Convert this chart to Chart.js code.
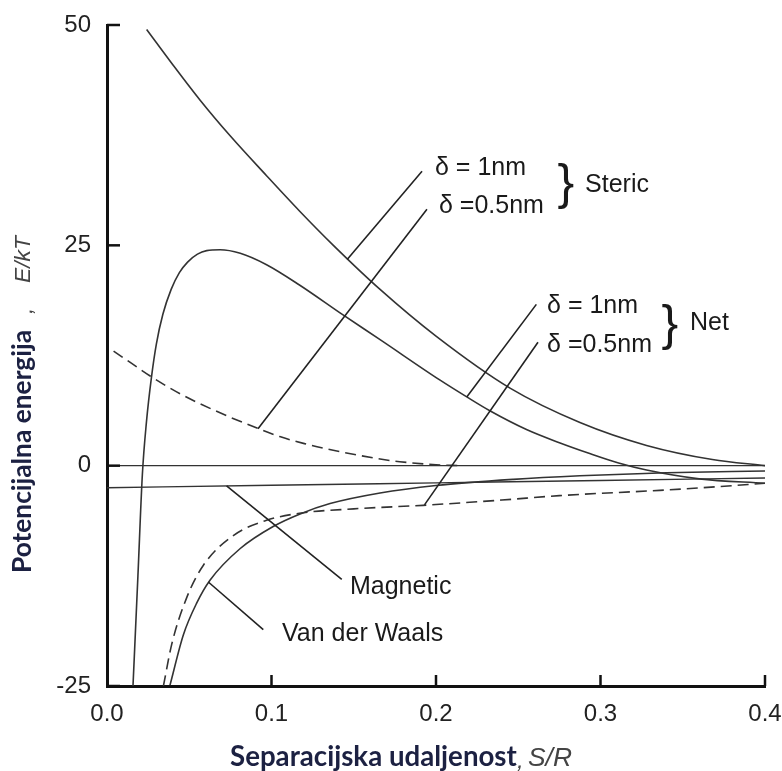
<!DOCTYPE html>
<html>
<head>
<meta charset="utf-8">
<script src="https://cdn.jsdelivr.net/npm/chart.js@4.4.1/dist/chart.umd.min.js"></script>
<style>
  html, body { margin: 0; padding: 0; background: #fff; }
  #wrap { width: 782px; height: 771px; }
</style>
</head>
<body>
<div id="wrap"><canvas id="energyChart" width="782" height="771"></canvas></div>
<script>
// --- data (x = S/R, y = E/kT) ---
const xTicks = [0.0, 0.1, 0.2, 0.3, 0.4];
const yTicks = [-25, 0, 25, 50];

const steric1X = [0.0241, 0.04, 0.0565, 0.075, 0.097, 0.117, 0.1376, 0.166, 0.2, 0.245, 0.2875, 0.328, 0.368, 0.4];
const steric1Y = [49.5, 45.5, 41.5, 37.4, 32.9, 28.9, 25.0, 20.0, 14.7, 8.8, 4.9, 2.3, 0.7, 0.0];

const steric05X = [0.004, 0.015, 0.026, 0.045, 0.065, 0.092, 0.105, 0.12, 0.1375, 0.1525, 0.166, 0.178, 0.2, 0.215];
const steric05Y = [13.0, 11.6, 10.2, 8.1, 6.3, 4.2, 3.3, 2.5, 1.75, 1.2, 0.75, 0.45, 0.1, 0.0];

const net1X = [0.0158, 0.0188, 0.0215, 0.024, 0.027, 0.030, 0.034, 0.039, 0.044, 0.049, 0.055, 0.0606, 0.0687, 0.081, 0.097, 0.117, 0.1435, 0.166, 0.2025, 0.2187, 0.233, 0.255, 0.275, 0.293, 0.311, 0.328, 0.36, 0.4];
const net1Y = [-25, -12.5, -1.0, 5.0, 10.0, 13.8, 17.2, 20.0, 21.9, 23.1, 24.0, 24.4, 24.5, 24.1, 22.8, 20.5, 17.1, 14.3, 9.7, 7.8, 6.2, 4.1, 2.6, 1.4, 0.3, -0.5, -1.5, -2.0];

const net05X = [0.0343, 0.0393, 0.0484, 0.0586, 0.077, 0.097, 0.117, 0.15, 0.192, 0.24, 0.275, 0.336, 0.37, 0.4];
const net05Y = [-25, -20.3, -15.0, -11.3, -7.9, -6.2, -5.4, -4.9, -4.5, -3.9, -3.4, -2.8, -2.4, -2.0];

const vdwX = [0.0383, 0.0464, 0.0545, 0.0626, 0.081, 0.101, 0.117, 0.1356, 0.166, 0.2, 0.247, 0.2875, 0.34, 0.4];
const vdwY = [-24.9, -19.2, -15.6, -13.0, -9.4, -6.9, -5.5, -4.3, -3.1, -2.25, -1.55, -1.15, -0.8, -0.6];

const magneticX = [0, 0.1, 0.2, 0.3, 0.4];
const magneticY = [-2.5, -2.22, -1.95, -1.68, -1.4];

const zeroX = [0, 0.4];
const zeroY = [0, 0];

// leader lines [x1, y1, x2, y2] in data units
const leaders = [
    [0.1915, 33.4, 0.146, 23.4],
    [0.1945, 29.1, 0.0918, 4.2],
    [0.261, 18.3, 0.2187, 7.8],
    [0.262, 14.0, 0.193, -4.45],
    [0.0727, -2.3, 0.1427, -12.9],
    [0.0616, -13.2, 0.095, -18.6],
];

// labels [text, x, y(baseline)]
const labels = [
    ['\u03b4 = 1nm', 0.1994, 32.98],
    ['\u03b4 =0.5nm', 0.2018, 28.67],
    ['Steric', 0.2906, 31.05],
    ['\u03b4 = 1nm', 0.2675, 17.32],
    ['\u03b4 =0.5nm', 0.2675, 12.9],
    ['Net', 0.3544, 15.39],
    ['Magnetic', 0.1477, -14.56],
    ['Van der Waals', 0.1064, -19.9],
];

// braces [x centre, y centre]
const braces = [
    [0.279, 31.85],
    [0.3422, 15.85],
];

const FONT = "'Liberation Sans', Arial, Helvetica, sans-serif";
const TITLE_FONT = "Lato, 'Open Sans', sans-serif";
const LINE = '#333';

const pts = (xs, ys) => xs.map((x, i) => ({ x, y: ys[i] }));

const makeSet = (label, xs, ys, dashed, width) => ({
    label,
    data: pts(xs, ys),
    borderColor: LINE,
    borderWidth: width || 1.6,
    borderDash: dashed ? [11, 6] : [],
    pointRadius: 0,
    showLine: true,
    fill: false,
    cubicInterpolationMode: 'monotone',
    clip: 0,
});

// pick a font size so the text spans the given width
const fitFont = (ctx, text, style, family, target) => {
    ctx.font = `${style} 20px ${family}`;
    const size = 20 * target / ctx.measureText(text).width;
    return `${style} ${size.toFixed(2)}px ${family}`;
};

const noPad = s => { s.paddingTop = 0; s.paddingBottom = 0; s.paddingLeft = 0; s.paddingRight = 0; };

const decor = {
    id: 'decor',
    afterDraw(chart) {
        const { ctx, chartArea: a, scales: { x, y } } = chart;
        ctx.save();

        // inward ticks
        ctx.strokeStyle = '#111';
        ctx.lineWidth = 2.5;
        yTicks.forEach(v => {
            const py = y.getPixelForValue(v);
            ctx.beginPath(); ctx.moveTo(a.left, py); ctx.lineTo(a.left + 13, py); ctx.stroke();
        });
        xTicks.slice(1).forEach(v => {
            const px = x.getPixelForValue(v);
            ctx.beginPath(); ctx.moveTo(px, a.bottom); ctx.lineTo(px, a.bottom - 11); ctx.stroke();
        });

        // leaders
        ctx.strokeStyle = '#222';
        ctx.lineWidth = 1.6;
        leaders.forEach(([x1, y1, x2, y2]) => {
            ctx.beginPath();
            ctx.moveTo(x.getPixelForValue(x1), y.getPixelForValue(y1));
            ctx.lineTo(x.getPixelForValue(x2), y.getPixelForValue(y2));
            ctx.stroke();
        });

        // labels
        ctx.fillStyle = '#1a1a1a';
        ctx.font = '25px ' + FONT;
        ctx.textAlign = 'left';
        ctx.textBaseline = 'alphabetic';
        labels.forEach(([t, lx, ly]) => {
            ctx.fillText(t, x.getPixelForValue(lx), y.getPixelForValue(ly));
        });

        // braces
        ctx.font = '50px ' + FONT;
        ctx.textAlign = 'center';
        ctx.textBaseline = 'middle';
        braces.forEach(([bx, by]) => {
            ctx.fillText('}', x.getPixelForValue(bx), y.getPixelForValue(by));
        });

        const navy = '#1c2142';
        const grey = '#444';

        // x title
        ctx.textAlign = 'left';
        ctx.textBaseline = 'alphabetic';
        const xt = 'Separacijska udaljenost';
        ctx.font = fitFont(ctx, xt, 'bold', TITLE_FONT, 287);
        ctx.fillStyle = navy;
        ctx.fillText(xt, 230, 766);
        ctx.fillStyle = grey;
        ctx.font = 'italic 24px ' + FONT;
        ctx.fillText(',', 517, 768);
        ctx.font = fitFont(ctx, 'S/R', 'italic', FONT, 44);
        ctx.fillText('S/R', 528, 766);

        // y title
        ctx.save();
        ctx.translate(31, 573);
        ctx.rotate(-Math.PI / 2);
        const yt = 'Potencijalna energija';
        ctx.font = fitFont(ctx, yt, 'bold', TITLE_FONT, 243);
        ctx.fillStyle = navy;
        ctx.fillText(yt, 0, 0);
        ctx.fillStyle = grey;
        ctx.font = 'italic 22px ' + FONT;
        ctx.fillText(',', 259, 1);
        ctx.font = fitFont(ctx, 'E/kT', 'italic', FONT, 47);
        ctx.fillText('E/kT', 290, -1);
        ctx.restore();

        ctx.restore();
    }
};

const ctx = document.getElementById('energyChart').getContext('2d');
new Chart(ctx, {
    type: 'scatter',
    data: {
        datasets: [
            makeSet('zero', zeroX, zeroY, false, 1.4),
            makeSet('Magnetic', magneticX, magneticY, false, 1.4),
            makeSet('Steric 1nm', steric1X, steric1Y, false),
            makeSet('Steric 0.5nm', steric05X, steric05Y, true),
            makeSet('Net 1nm', net1X, net1Y, false),
            makeSet('Net 0.5nm', net05X, net05Y, true),
            makeSet('Van der Waals', vdwX, vdwY, false),
        ]
    },
    options: {
        responsive: false,
        animation: false,
        events: [],
        layout: { padding: { top: 25, right: 17, left: 0, bottom: 0 } },
        plugins: {
            legend: { display: false },
            tooltip: { enabled: false },
        },
        scales: {
            x: {
                type: 'linear',
                min: 0,
                max: 0.4,
                afterFit(s) { s.height = 85; noPad(s); },
                afterBuildTicks(s) { s.ticks = xTicks.map(v => ({ value: v })); },
                ticks: {
                    callback: v => v.toFixed(1),
                    font: { family: FONT, size: 24 },
                    color: '#222',
                    padding: 14,
                    maxRotation: 0,
                    autoSkip: false,
                },
                grid: { display: true, drawOnChartArea: false, drawTicks: false },
                border: { display: true, color: '#111', width: 3 },
            },
            y: {
                type: 'linear',
                min: -25,
                max: 50,
                afterFit(s) { s.width = 107; noPad(s); },
                afterBuildTicks(s) { s.ticks = yTicks.map(v => ({ value: v })); },
                ticks: {
                    font: { family: FONT, size: 24 },
                    color: '#222',
                    padding: 16,
                    autoSkip: false,
                },
                grid: { display: true, drawOnChartArea: false, drawTicks: false },
                border: { display: true, color: '#111', width: 3 },
            }
        }
    },
    plugins: [decor]
});
</script>
</body>
</html>
